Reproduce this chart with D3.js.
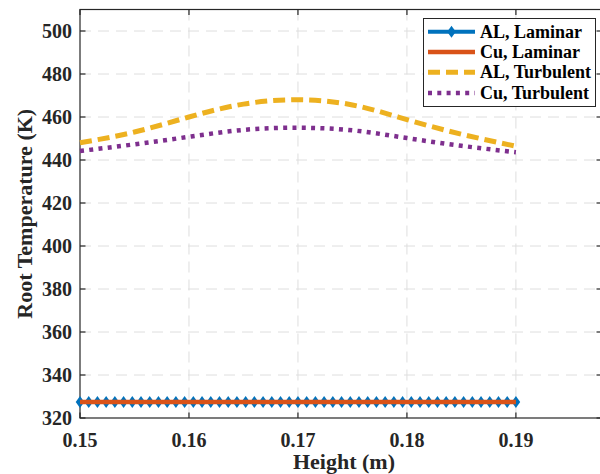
<!DOCTYPE html>
<html>
<head>
<meta charset="utf-8">
<script src="https://cdn.jsdelivr.net/npm/d3@7"></script>
<style>
  html, body { margin: 0; padding: 0; background: #fff; overflow: hidden; }
  svg { display: block; font-family: "Liberation Serif", "Times New Roman", serif; font-weight: bold; }
</style>
</head>
<body>
<svg width="600" height="474"></svg>
<script>
// Heights (m) for the laminar runs, one marker per point
const laminarHeights = [0.1500,0.1508,0.1516,0.1524,0.1532,0.1540,0.1548,0.1556,0.1564,0.1572,
  0.1580,0.1588,0.1596,0.1604,0.1612,0.1620,0.1628,0.1636,0.1644,0.1652,
  0.1660,0.1668,0.1676,0.1684,0.1692,0.1700,0.1708,0.1716,0.1724,0.1732,
  0.1740,0.1748,0.1756,0.1764,0.1772,0.1780,0.1788,0.1796,0.1804,0.1812,
  0.1820,0.1828,0.1836,0.1844,0.1852,0.1860,0.1868,0.1876,0.1884,0.1892,0.1900];
const alLaminar = [327.5,327.5,327.5,327.5,327.5,327.5,327.5,327.5,327.5,327.5,
  327.5,327.5,327.5,327.5,327.5,327.5,327.5,327.5,327.5,327.5,
  327.5,327.5,327.5,327.5,327.5,327.5,327.5,327.5,327.5,327.5,
  327.5,327.5,327.5,327.5,327.5,327.5,327.5,327.5,327.5,327.5,
  327.5,327.5,327.5,327.5,327.5,327.5,327.5,327.5,327.5,327.5,327.5];
const cuLaminar = [327.5,327.5,327.5,327.5,327.5,327.5,327.5,327.5,327.5,327.5,
  327.5,327.5,327.5,327.5,327.5,327.5,327.5,327.5,327.5,327.5,
  327.5,327.5,327.5,327.5,327.5,327.5,327.5,327.5,327.5,327.5,
  327.5,327.5,327.5,327.5,327.5,327.5,327.5,327.5,327.5,327.5,
  327.5,327.5,327.5,327.5,327.5,327.5,327.5,327.5,327.5,327.5,327.5];

// Turbulent runs
const turbulentHeights = [0.150, 0.155, 0.160, 0.165, 0.170, 0.175, 0.180, 0.185, 0.190];
const alTurbulent = [448.0, 453.0, 460.0, 466.0, 468.0, 465.6, 458.8, 452.0, 446.4];
const cuTurbulent = [444.2, 447.3, 450.8, 454.0, 455.0, 453.8, 450.2, 446.6, 443.6];

const xTicks = [0.15, 0.16, 0.17, 0.18, 0.19];
const yTicks = [320, 340, 360, 380, 400, 420, 440, 460, 480, 500];
const legendLabels = ["AL, Laminar", "Cu, Laminar", "AL, Turbulent", "Cu, Turbulent"];

const colors = { blue: "#0072BD", orange: "#D95319", yellow: "#EDB120", purple: "#7E2F8E" };
const axisColor = "#262626";

// plot box (right side runs past the canvas, as in the original figure)
const margin = { top: 9.5, left: 80, bottom: 418, right: 602 };

const svg = d3.select("svg");

const x = d3.scaleLinear().domain([0.15, 0.1979]).range([margin.left, margin.right]);
const y = d3.scaleLinear().domain([320, 510]).range([margin.bottom, margin.top]);

// grid
const grid = svg.append("g").attr("stroke", "#dedede").attr("stroke-width", 1)
  .attr("stroke-dasharray", "11,7");
grid.selectAll(".gx").data(xTicks.slice(1)).enter().append("line")
  .attr("x1", d => x(d)).attr("x2", d => x(d))
  .attr("y1", margin.top).attr("y2", margin.bottom);
grid.selectAll(".gy").data(yTicks.slice(1)).enter().append("line")
  .attr("x1", margin.left).attr("x2", margin.right)
  .attr("y1", d => y(d)).attr("y2", d => y(d));

// box + inward ticks
const axes = svg.append("g").attr("stroke", axisColor).attr("stroke-width", 1.2).attr("fill", "none");
axes.append("rect")
  .attr("x", margin.left).attr("y", margin.top)
  .attr("width", margin.right - margin.left).attr("height", margin.bottom - margin.top);
const tickLen = 5.5;
xTicks.forEach(t => {
  axes.append("line").attr("x1", x(t)).attr("x2", x(t)).attr("y1", margin.bottom).attr("y2", margin.bottom - tickLen);
  axes.append("line").attr("x1", x(t)).attr("x2", x(t)).attr("y1", margin.top).attr("y2", margin.top + tickLen);
});
yTicks.forEach(t => {
  axes.append("line").attr("x1", margin.left).attr("x2", margin.left + tickLen).attr("y1", y(t)).attr("y2", y(t));
  axes.append("line").attr("x1", margin.right).attr("x2", margin.right - tickLen).attr("y1", y(t)).attr("y2", y(t));
});

// tick labels
svg.append("g").selectAll("text").data(xTicks).enter().append("text")
  .attr("x", d => x(d)).attr("y", 446.5)
  .attr("text-anchor", "middle").attr("font-size", 20).attr("fill", axisColor)
  .text(d => d.toFixed(2));
svg.append("g").selectAll("text").data(yTicks).enter().append("text")
  .attr("x", 72).attr("y", d => y(d) + 7)
  .attr("text-anchor", "end").attr("font-size", 20).attr("fill", axisColor)
  .text(d => d);

// axis titles
svg.append("text")
  .attr("x", 344).attr("y", 469)
  .attr("text-anchor", "middle").attr("font-size", 22).attr("fill", axisColor)
  .text("Height (m)");
svg.append("text")
  .attr("transform", "translate(32," + ((margin.top + margin.bottom) / 2) + ") rotate(-90)")
  .attr("text-anchor", "middle").attr("font-size", 22).attr("fill", axisColor)
  .text("Root Temperature (K)");

// lines
const lineOf = (xs, ys, curve) => d3.line()
  .x((d, i) => x(xs[i])).y(d => y(d)).curve(curve || d3.curveLinear)(ys);

const diamond = (cx, cy) => `M${cx},${cy - 6}L${cx + 4.3},${cy}L${cx},${cy + 6}L${cx - 4.3},${cy}Z`;

svg.append("path").attr("d", lineOf(laminarHeights, alLaminar))
  .attr("fill", "none").attr("stroke", colors.blue).attr("stroke-width", 4);
svg.append("g").selectAll("path").data(alLaminar).enter().append("path")
  .attr("d", (d, i) => diamond(x(laminarHeights[i]), y(d)))
  .attr("fill", colors.blue);

svg.append("path").attr("d", lineOf(laminarHeights, cuLaminar))
  .attr("fill", "none").attr("stroke", colors.orange).attr("stroke-width", 4.5);

svg.append("path").attr("d", lineOf(turbulentHeights, alTurbulent, d3.curveNatural))
  .attr("fill", "none").attr("stroke", colors.yellow).attr("stroke-width", 5)
  .attr("stroke-dasharray", "12,6");

svg.append("path").attr("d", lineOf(turbulentHeights, cuTurbulent, d3.curveNatural))
  .attr("fill", "none").attr("stroke", colors.purple).attr("stroke-width", 4.5)
  .attr("stroke-dasharray", "4,5.3");

// legend
const legend = svg.append("g");
legend.append("rect")
  .attr("x", 423.5).attr("y", 18.5).attr("width", 172).attr("height", 88)
  .attr("fill", "#fff").attr("stroke", axisColor).attr("stroke-width", 1);
const legendStyles = [
  { color: colors.blue, width: 4, dash: null, marker: true },
  { color: colors.orange, width: 4.5, dash: null },
  { color: colors.yellow, width: 5, dash: "12,6" },
  { color: colors.purple, width: 4.5, dash: "4,5.3" }
];
const rowY = [31.7, 52, 72.3, 93];
legendLabels.forEach((label, i) => {
  const s = legendStyles[i];
  legend.append("line")
    .attr("x1", 428).attr("x2", 475).attr("y1", rowY[i]).attr("y2", rowY[i])
    .attr("stroke", s.color).attr("stroke-width", s.width)
    .attr("stroke-dasharray", s.dash);
  if (s.marker) legend.append("path").attr("d", diamond(451.5, rowY[i])).attr("fill", s.color);
  legend.append("text")
    .attr("x", 480).attr("y", rowY[i] + 6)
    .attr("font-size", 18).attr("fill", "#000")
    .text(label);
});
</script>
</body>
</html>
